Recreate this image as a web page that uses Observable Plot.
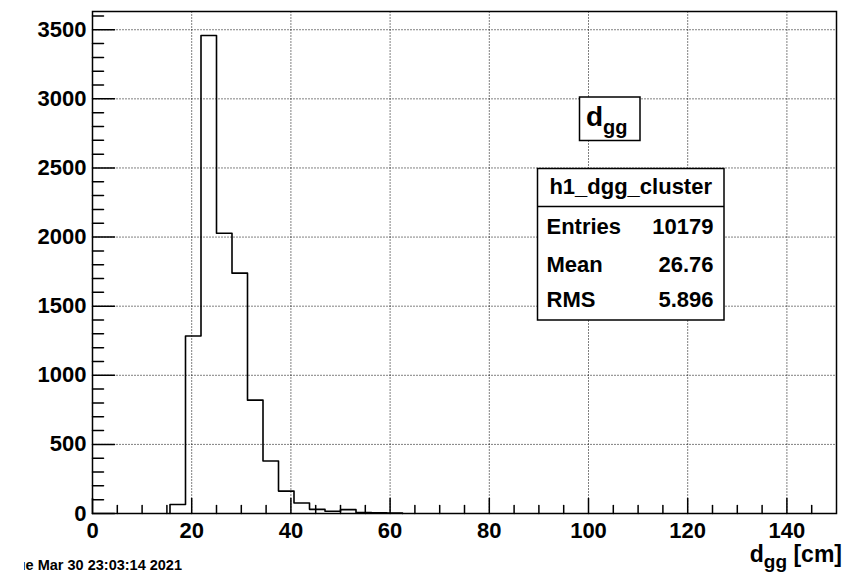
<!DOCTYPE html>
<html><head><meta charset="utf-8">
<script src="https://cdn.jsdelivr.net/npm/d3@7"></script>
<script src="https://cdn.jsdelivr.net/npm/@observablehq/plot@0.6"></script>
<style>
html,body{margin:0;padding:0;background:#fff;}
#chart{width:851px;height:575px;overflow:hidden;}
</style></head><body><div id="chart"></div>
<script>
// Histogram bins (bin width 3.125 cm, 48 bins over 0..150)
const binLeft  = [15.625, 18.75, 21.875, 25, 28.125, 31.25, 34.375, 37.5, 40.625, 43.75, 46.875, 50, 53.125, 56.25, 59.375];
const binRight = [18.75, 21.875, 25, 28.125, 31.25, 34.375, 37.5, 40.625, 43.75, 46.875, 50, 53.125, 56.25, 59.375, 62.5];
const counts   = [65, 1284, 3458, 2028, 1739, 820, 380, 162, 76, 30, 16, 28, 6, 5, 4];

const histName   = "h1_dgg_cluster";
const statLabels = ["Entries", "Mean", "RMS"];
const statValues = ["10179", "26.76", "5.896"];
const dateText   = "Tue Mar 30 23:03:14 2021";

const xMajor = [0, 20, 40, 60, 80, 100, 120, 140];
const xMinor = [5, 10, 15, 25, 30, 35, 45, 50, 55, 65, 70, 75, 85, 90, 95, 105, 110, 115, 125, 130, 135, 145];
const yMajor = [0, 500, 1000, 1500, 2000, 2500, 3000, 3500];
const yMinor = [100, 200, 300, 400, 600, 700, 800, 900, 1100, 1200, 1300, 1400, 1600, 1700, 1800, 1900,
                2100, 2200, 2300, 2400, 2600, 2700, 2800, 2900, 3100, 3200, 3300, 3400, 3600];
const xDomain = [0, 150];
const yDomain = [0, 3632];

const W = 851, H = 575, mL = 92, mR = 15, mT = 11, mB = 62;

const step = [{x: binLeft[0], y: 0}]
  .concat(binLeft.map((x, i) => ({x, y: counts[i]})))
  .concat([{x: binRight[binRight.length - 1], y: 0}]);

// inward tick shapes for vector marks
const tickUp    = {draw(ctx, l) { ctx.moveTo(0, 0); ctx.lineTo(0, -l); }};
const tickRight = {draw(ctx, l) { ctx.moveTo(0, 0); ctx.lineTo(l, 0); }};
const tickStyle = {stroke: "black", strokeWidth: 1.5, anchor: "start"};
const gridStyle = {stroke: "black", strokeOpacity: 1, strokeWidth: 1, strokeDasharray: "1,2"};

const chart = Plot.plot({
  width: W, height: H,
  marginLeft: mL, marginRight: mR, marginTop: mT, marginBottom: mB,
  style: {fontFamily: "'Liberation Sans', Arial, Helvetica, sans-serif", fontWeight: "bold", fontSize: "22px", color: "black", background: "white"},
  x: {domain: xDomain},
  y: {domain: yDomain},
  marks: [
    Plot.link(xMajor.filter(d => d > xDomain[0]), {x1: d => d, x2: d => d, y1: () => yDomain[0], y2: () => yDomain[1], ...gridStyle}),
    Plot.link(yMajor.filter(d => d > yDomain[0]), {y1: d => d, y2: d => d, x1: () => xDomain[0], x2: () => xDomain[1], ...gridStyle}),
    Plot.line(step, {x: "x", y: "y", curve: "step-after", stroke: "black", strokeWidth: 1.6}),
    Plot.vector(xMajor, {x: d => d, y: () => yDomain[0], length: 15, shape: tickUp, ...tickStyle}),
    Plot.vector(xMinor, {x: d => d, y: () => yDomain[0], length: 8, shape: tickUp, ...tickStyle}),
    Plot.vector(yMajor, {y: d => d, x: () => xDomain[0], length: 22, shape: tickRight, ...tickStyle}),
    Plot.vector(yMinor, {y: d => d, x: () => xDomain[0], length: 11, shape: tickRight, ...tickStyle}),
    Plot.axisX(xMajor, {tickSize: 0, tickPadding: 9, fontSize: 22, fontWeight: "bold", label: null, tickFormat: d => String(d)}),
    Plot.axisY(yMajor, {tickSize: 0, tickPadding: 6, fontSize: 22, fontWeight: "bold", label: null, tickFormat: d => String(d)}),
    Plot.frame({stroke: "black", strokeWidth: 1.5})
  ]
});

const svg = d3.select(chart);
const ff = "'Liberation Sans', Arial, Helvetica, sans-serif";

// Title box
const tg = svg.append("g").attr("text-anchor", "start");
tg.append("rect").attr("x", 579.5).attr("y", 97).attr("width", 60.5).attr("height", 43.5)
  .attr("fill", "white").attr("stroke", "black").attr("stroke-width", 1.5);
const tt = tg.append("text").attr("x", 586).attr("y", 126).attr("text-anchor", "start").attr("font-family", ff).attr("font-weight", "bold").attr("fill", "black");
tt.append("tspan").attr("font-size", 28).text("d");
tt.append("tspan").attr("font-size", 20).attr("dy", 8).text("gg");

// Stats box
const sg = svg.append("g").attr("font-family", ff).attr("font-weight", "bold").attr("font-size", 22).attr("fill", "black").attr("text-anchor", "start");
sg.append("rect").attr("x", 537.5).attr("y", 168.5).attr("width", 186.5).attr("height", 151.5)
  .attr("fill", "white").attr("stroke", "black").attr("stroke-width", 1.5);
sg.append("line").attr("x1", 537.5).attr("x2", 724).attr("y1", 206.5).attr("y2", 206.5)
  .attr("stroke", "black").attr("stroke-width", 1.5);
sg.append("text").attr("x", 630.7).attr("y", 194).attr("text-anchor", "middle").text(histName);
const rowY = [234, 271.5, 306.5];
statLabels.forEach((lab, i) => {
  sg.append("text").attr("x", 546.5).attr("y", rowY[i]).attr("text-anchor", "start").text(lab);
  sg.append("text").attr("x", 713.5).attr("y", rowY[i]).attr("text-anchor", "end").text(statValues[i]);
});

// X axis title
const xt = svg.append("text").attr("x", 842).attr("y", 562).attr("text-anchor", "end")
  .attr("font-family", ff).attr("font-weight", "bold").attr("fill", "black");
xt.append("tspan").attr("font-size", 23).text("d");
xt.append("tspan").attr("font-size", 19).attr("dy", 6).text("gg");
xt.append("tspan").attr("font-size", 23).attr("dy", -6).text(" [cm]");

// Date stamp (left part cut off as in the original canvas)
svg.append("defs").append("clipPath").attr("id", "dateclip")
  .append("rect").attr("x", 24).attr("y", 540).attr("width", 300).attr("height", 35);
svg.append("text").attr("x", 182).attr("y", 570).attr("text-anchor", "end").attr("clip-path", "url(#dateclip)")
  .attr("font-family", ff).attr("font-weight", "bold").attr("font-size", 14.5).attr("fill", "black").text(dateText);

document.getElementById("chart").appendChild(chart);
</script></body></html>
